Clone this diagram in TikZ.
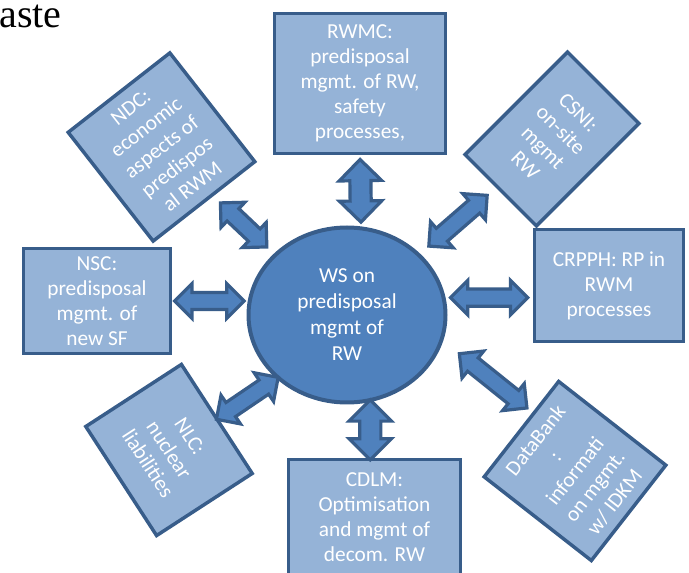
\documentclass[tikz,border=0pt]{standalone}
\usepackage{fontspec}
\setmainfont{Carlito}
\newfontfamily\slidefont{Liberation Serif}
\usetikzlibrary{shapes.geometric,shapes.arrows}
\definecolor{rwdark}{HTML}{385D8A}
\definecolor{rwmid}{HTML}{4F81BD}
\definecolor{rwlight}{HTML}{95B3D7}
\tikzset{box/.style={draw=rwdark, line width=2.6pt, fill=rwlight, text=white, align=center, inner sep=2pt, font=\fontsize{16}{18.8}\selectfont}, ws/.style={ellipse, draw=rwdark, line width=3pt, fill=rwmid, text=white, align=center, inner sep=1pt, minimum width=147.75pt, minimum height=131.25pt, font=\fontsize{16}{19.5}\selectfont}, dblarrow/.style={double arrow, draw=rwdark, line width=2.4pt, fill=rwmid, inner xsep=0pt, inner ysep=5.2pt, double arrow head extend=6.6pt, sloped, midway}, bigarrow/.style={dblarrow, inner ysep=6.7pt, double arrow head extend=8pt}}

\begin{document}
\begin{tikzpicture}[x=0.75pt, y=-0.75pt]
    \useasboundingbox (0,0) rectangle (689,573);
    \node[anchor=base west, inner sep=0pt, font=\slidefont\fontsize{30}{34}\selectfont] (title) at (-1,28) {aste};

    \node[ws] (ws) at (347,315) {WS on\\predisposal\\mgmt of\\RW};

    \node[box, minimum width=128.25pt, minimum height=105pt] (rwmc) at (360,83.5) {RWMC:\\predisposal\\mgmt. of RW,\\safety\\processes,};
    \node[box, minimum width=96.75pt, minimum height=103.5pt, rotate=38] (ndc) at (161.5,147) {NDC:\\economic\\aspects of\\predispos\\al RWM};
    \node[box, minimum width=75.75pt, minimum height=108.75pt, rotate=-45] (csni) at (552,139) {CSNI:\\on-site\\mgmt\\RW};
    \node[box, minimum width=111.75pt, minimum height=84pt] (crpph) at (609,285.5) {CRPPH: RP in\\RWM\\processes};
    \node[box, minimum width=110.25pt, minimum height=78.75pt] (nsc) at (97,301) {NSC:\\predisposal\\mgmt. of\\new SF};
    \node[box, minimum width=97.5pt, minimum height=85.5pt, rotate=-57] (nlc) at (169,450) {NLC:\\nuclear\\liabilities};
    \node[box, minimum width=129pt, minimum height=86.25pt] (cdlm) at (374.5,517) {CDLM:\\Optimisation\\and mgmt of\\decom. RW};
    \node[box, minimum width=90.75pt, minimum height=102pt, rotate=52] (databank) at (575,471) {DataBank\\:\\informati\\on mgmt.\\w/ IDKM};

    \path (ws.81) -- (rwmc.south) node[bigarrow, minimum height=47pt] (a-rwmc) {};
    \path (ws.140) -- (ndc) node[dblarrow, minimum height=48pt] (a-ndc) {};
    \path (ws.40) -- (csni) node[dblarrow, minimum height=58pt] (a-csni) {};
    \path (ws.10) -- (ws.10 -| crpph.west) node[dblarrow, minimum height=58pt] (a-crpph) {};
    \path (nsc.east) -- (nsc.east -| ws.west) node[dblarrow, minimum height=52pt] (a-nsc) {};
    \path (ws.222) -- (nlc.north) node[dblarrow, minimum height=56pt] (a-nlc) {};
    \path (ws.285) -- (ws.285 |- cdlm.north) node[bigarrow, minimum height=45pt] (a-cdlm) {};
    \path (ws.345) -- (databank.74) node[dblarrow, pos=0.56, minimum height=65pt] (a-databank) {};
\end{tikzpicture}
\end{document}
